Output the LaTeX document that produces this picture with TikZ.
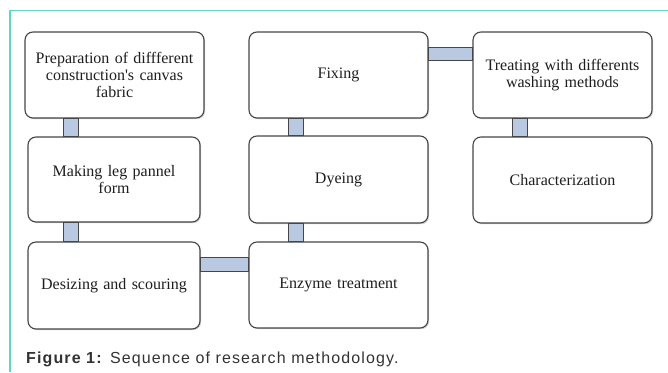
\documentclass[tikz,border=0pt]{standalone}
\usepackage{fontspec}
\setmainfont{Liberation Serif}[Ligatures=TeXOff]
\newfontfamily\capfont[LetterSpace=7]{Liberation Sans}
\usetikzlibrary{shadows}
\definecolor{frameteal}{RGB}{98,214,196}
\definecolor{connfill}{RGB}{186,201,226}
\definecolor{boxline}{RGB}{70,70,70}
\definecolor{txtcol}{RGB}{30,30,30}
\tikzset{
  stepbox/.style={draw=boxline, line width=1.1pt, rounded corners=8pt, fill=white,
    drop shadow={shadow xshift=1.2pt, shadow yshift=-1.2pt, fill=black!35, opacity=0.5},
    align=center, inner sep=2pt, text=txtcol,
    font=\fontsize{16}{17}\selectfont},
  conn/.style={draw=boxline, line width=0.9pt, fill=connfill},
  framel/.style={draw=frameteal, line width=1.5pt}
}
\begin{document}
\begin{tikzpicture}[x=1pt,y=-1pt]
\useasboundingbox (0,0) rectangle (668,372);
\draw[framel] (10,372) -- (10,10.5) -- (668,10.5);

\node[stepbox, minimum width=179pt, minimum height=86pt, text width=172pt] (b1) at (114.5,75) {Preparation of diffferent\\construction's canvas\\fabric};
\node[stepbox, minimum width=172pt, minimum height=85pt, text width=165pt] (b2) at (114,179.5) {Making leg pannel\\form};
\node[stepbox, minimum width=172pt, minimum height=87pt, text width=165pt] (b3) at (114,285.5) {Desizing and scouring};
\node[stepbox, minimum width=179pt, minimum height=86pt, text width=172pt] (b4) at (338.5,285) {Enzyme treatment};
\node[stepbox, minimum width=179pt, minimum height=87pt, text width=172pt] (b5) at (338.5,179.5) {Dyeing};
\node[stepbox, minimum width=179pt, minimum height=86pt, text width=172pt] (b6) at (338.5,75) {Fixing};
\node[stepbox, minimum width=179pt, minimum height=86pt, text width=172pt] (b7) at (562.5,75) {Treating with differents\\washing methods};
\node[stepbox, minimum width=179pt, minimum height=86pt, text width=172pt] (b8) at (562.5,180) {Characterization};

\draw[conn] ([xshift=-7.5pt]b1.south west -| 70.5,0) rectangle ([xshift=7.5pt]b2.north west -| 70.5,0);
\draw[conn] ([xshift=-7.5pt]b2.south -| 70.5,0) rectangle ([xshift=7.5pt]b3.north -| 70.5,0);
\draw[conn] ([yshift=7pt]b3.east |- 0,264) rectangle ([yshift=-7pt]b4.west |- 0,264);
\draw[conn] ([xshift=-7.5pt]b5.south -| 295.5,0) rectangle ([xshift=7.5pt]b4.north -| 295.5,0);
\draw[conn] ([xshift=-7.5pt]b6.south -| 295.5,0) rectangle ([xshift=7.5pt]b5.north -| 295.5,0);
\draw[conn] ([yshift=6.5pt]b6.east |- 0,53.5) rectangle ([yshift=-6.5pt]b7.west |- 0,53.5);
\draw[conn] ([xshift=-7.5pt]b7.south -| 519.5,0) rectangle ([xshift=7.5pt]b8.north -| 519.5,0);

\node[anchor=base west, inner sep=0pt, text=black!80, font=\capfont\fontsize{16}{18}\selectfont] (cap) at (26,363) {\textbf{Figure 1:} Sequence of research methodology.};
\end{tikzpicture}
\end{document}
